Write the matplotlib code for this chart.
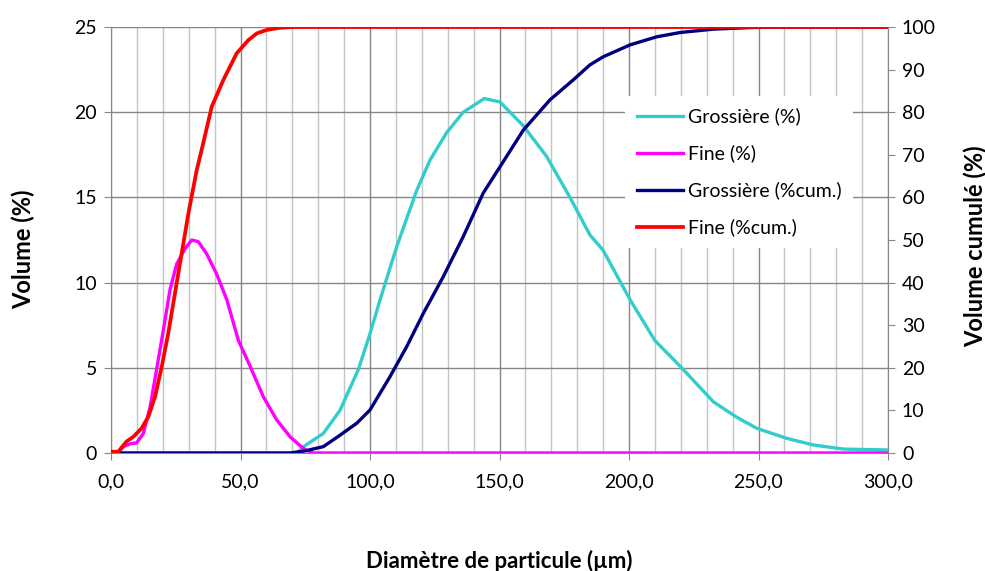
import numpy as np
import matplotlib
matplotlib.use("Agg")
import matplotlib.pyplot as plt
from matplotlib.ticker import MultipleLocator, FuncFormatter

plt.rcParams['font.family'] = ['Lato', 'DejaVu Sans']

# Grossière (%) - volume distribution, coarse fraction
gros_x = [0, 72, 74.3, 82, 88.4, 95.5, 100, 103.9, 110.3, 118, 123.2, 129.6, 136, 144.1,
          150.2, 159.2, 168.2, 177.2, 184.9, 190, 200.4, 210, 219.7, 232.6, 241.6, 249.3,
          260.9, 271.2, 282.8, 299.5]
gros_y = [0, 0, 0.37, 1.15, 2.5, 4.9, 7.0, 9.0, 12.1, 15.4, 17.2, 18.8, 20.0, 20.8,
          20.6, 19.2, 17.4, 15.0, 12.8, 11.9, 9.0, 6.6, 5.1, 3.0, 2.1, 1.45,
          0.86, 0.47, 0.23, 0.18]

# Fine (%) - volume distribution, fine fraction
fine_x = [0, 2.8, 4.7, 7.3, 9.9, 12.5, 15.1, 17.6, 20.2, 22.8, 25.4, 28.6, 31.2, 33.7,
          36.9, 40.8, 44.7, 49.2, 53.7, 58.8, 64, 69.1, 74.2, 78, 300]
fine_y = [0.08, 0, 0.37, 0.53, 0.6, 1.15, 2.7, 4.9, 7.2, 9.6, 11.1, 12.0, 12.5, 12.4,
          11.7, 10.5, 9.0, 6.6, 5.1, 3.3, 1.94, 0.96, 0.27, 0, 0]

# Grossière (%cum.)
gros_cum_x = [0, 69, 75, 82, 88, 94.9, 100, 107.7, 114.2, 120.6, 128.3, 136, 143.7, 150.2,
              159.2, 169.5, 178.5, 184.9, 190, 200.4, 210.7, 219.7, 232.6, 248, 262, 300]
gros_cum_y = [0, 0, 0.5, 1.5, 4.0, 7.0, 10.1, 17.9, 25, 32.8, 41.4, 50.8, 61, 67.2,
              75.8, 82.9, 87.6, 91.1, 93, 95.8, 97.7, 98.7, 99.5, 99.9, 100, 100]

# Fine (%cum.)
fine_cum_x = [0, 2.8, 6, 8.6, 11.8, 14.4, 17, 19.6, 22.1, 24.7, 27.3, 29.9, 33.1, 35.6,
              38.9, 43.4, 48.5, 53, 56.3, 60.1, 65, 70.4, 300]
fine_cum_y = [0.3, 0.3, 2.7, 3.8, 5.8, 8.5, 13.2, 20.3, 28.1, 37.5, 46.9, 56.3, 66.4, 72.7,
              81.3, 87.6, 93.8, 96.9, 98.5, 99.3, 99.8, 100, 100]

fig = plt.figure(figsize=(9.85, 5.71), dpi=100)
ax = fig.add_axes([111/985, 118/571, 777/985, 426/571])
ax2 = ax.twinx()

lw = 2.4
l1, = ax.plot(gros_x, gros_y, color='#33cccc', lw=lw, label='Grossière (%)')
l2, = ax.plot(fine_x, fine_y, color='#ff00ff', lw=lw, label='Fine (%)')
l3, = ax2.plot(gros_cum_x, gros_cum_y, color='#000080', lw=lw, label='Grossière (%cum.)')
l4, = ax2.plot(fine_cum_x, fine_cum_y, color='#ff0000', lw=lw + 0.3, label='Fine (%cum.)')

ax.set_xlim(0, 300)
ax.set_ylim(0, 25)
ax2.set_ylim(0, 100)

ax.xaxis.set_major_locator(MultipleLocator(50))
ax.xaxis.set_minor_locator(MultipleLocator(10))
ax.yaxis.set_major_locator(MultipleLocator(5))
ax2.yaxis.set_major_locator(MultipleLocator(10))
ax.xaxis.set_major_formatter(FuncFormatter(lambda v, p: f"{v:.1f}".replace('.', ',')))

ax.grid(which='major', axis='both', color='#868686', lw=1.0)
ax.grid(which='minor', axis='x', color='#c4c4c4', lw=1.0)
ax.set_axisbelow(True)

for a in (ax, ax2):
    for s in a.spines.values():
        s.set_visible(False)
ax.spines['left'].set_visible(True)
ax.spines['left'].set_color('#868686')
ax.spines['bottom'].set_visible(True)
ax.spines['bottom'].set_color('#868686')
ax2.spines['right'].set_visible(True)
ax2.spines['right'].set_color('#868686')

ax.tick_params(axis='both', which='major', labelsize=14, length=5, color='#868686', pad=5)
ax.tick_params(axis='x', which='minor', length=0)
ax.tick_params(axis='x', which='major', pad=10)
ax2.tick_params(axis='y', labelsize=14, length=5, color='#868686', pad=5)

# axis titles placed like the original
fig.text(23/985, 1 - 249/571, 'Volume (%)', rotation=90, ha='center', va='center',
         fontsize=17, fontweight='bold')
fig.text(975/985, 1 - 246/571, 'Volume cumulé (%)', rotation=90, ha='center', va='center',
         fontsize=17, fontweight='bold')
fig.text(499/985, 1 - 561/571, 'Diamètre de particule (µm)', ha='center', va='center',
         fontsize=16, fontweight='bold')

leg = ax2.legend(handles=[l1, l2, l3, l4], loc='upper left',
                 bbox_to_anchor=(625/985, 1 - 96/571), bbox_transform=fig.transFigure,
                 borderaxespad=0, frameon=True, fancybox=False, edgecolor='none',
                 framealpha=1, fontsize=14, handlelength=2.4, handletextpad=0.25,
                 labelspacing=0.98, borderpad=0.6)
leg.set_zorder(10)

fig.savefig('out.png', dpi=100)
